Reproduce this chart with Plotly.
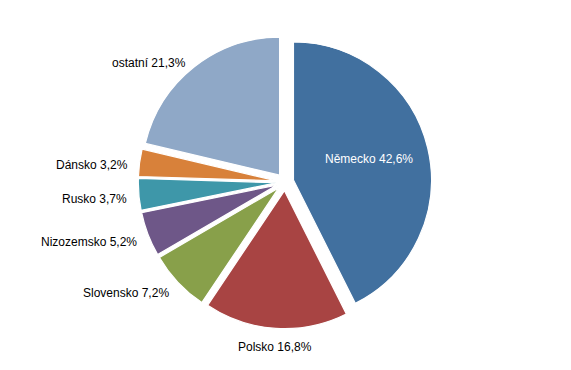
import math
import plotly.graph_objects as go

countries = ["Německo", "Polsko", "Slovensko", "Nizozemsko", "Rusko", "Dánsko", "ostatní"]
shares = [42.6, 16.8, 7.2, 5.2, 3.7, 3.2, 21.3]
colors = ["#41709F", "#A84443", "#88A04A", "#6E5788", "#3E97A9", "#D8813A", "#8FA8C7"]
inside = [True, False, False, False, False, False, False]

labels_text = [f"{c} {v:.1f}%".replace(".", ",") for c, v in zip(countries, shares)]

# layout geometry (pixels)
W, H = 571, 370
CX, CY = 285, 182
R = 138
PULL = 0.063
HALF = R * (1 + PULL)

dom_x = [(CX - HALF) / W, (CX + HALF) / W]
dom_y = [(H - CY - HALF) / H, (H - CY + HALF) / H]

fig = go.Figure(go.Pie(
    labels=countries,
    values=shares,
    textinfo="none",
    sort=False,
    direction="clockwise",
    rotation=0,
    pull=[PULL] * len(shares),
    marker=dict(colors=colors, line=dict(color="white", width=1.2)),
    domain=dict(x=dom_x, y=dom_y),
    hoverinfo="label+percent",
))

# data labels placed along each slice's mid-angle
total = sum(shares)
annotations = []
cum = 0.0
for name, val, txt, ins in zip(countries, shares, labels_text, inside):
    mid = (cum + val / 2) / total * 2 * math.pi
    cum += val
    s, c = math.sin(mid), math.cos(mid)
    if ins:
        pcx = CX + R * PULL * s
        pcy = CY - R * PULL * c
        rr = 0.56 * R
        px, py = pcx + rr * s, pcy - rr * c
        annotations.append(dict(
            x=px / W, y=1 - py / H, xref="paper", yref="paper",
            text=txt, showarrow=False, xanchor="center", yanchor="middle",
            yshift=3,
            font=dict(color="white", size=12, family="Liberation Sans"),
        ))
    else:
        rl = HALF + 10
        px, py = CX + rl * s, CY - rl * c
        ys = 0
        if s < -0.35:
            xa, ya = "right", "middle"
            ys = -4
        elif s > 0.35:
            xa, ya = "left", "middle"
            ys = -4
        else:
            xa = "center"
            ya = "top" if c < 0 else "bottom"
        annotations.append(dict(
            x=px / W, y=1 - py / H, xref="paper", yref="paper",
            text=txt, showarrow=False, xanchor=xa, yanchor=ya, yshift=ys,
            font=dict(color="black", size=12, family="Liberation Sans"),
        ))

fig.update_layout(
    width=W, height=H,
    margin=dict(l=0, r=0, t=0, b=0),
    showlegend=False,
    paper_bgcolor="white",
    plot_bgcolor="white",
    font=dict(family="Liberation Sans", size=12, color="black"),
    annotations=annotations,
)

fig.write_html("out.html", config={"displayModeBar": False},
               post_script="document.body.style.margin='0';")
